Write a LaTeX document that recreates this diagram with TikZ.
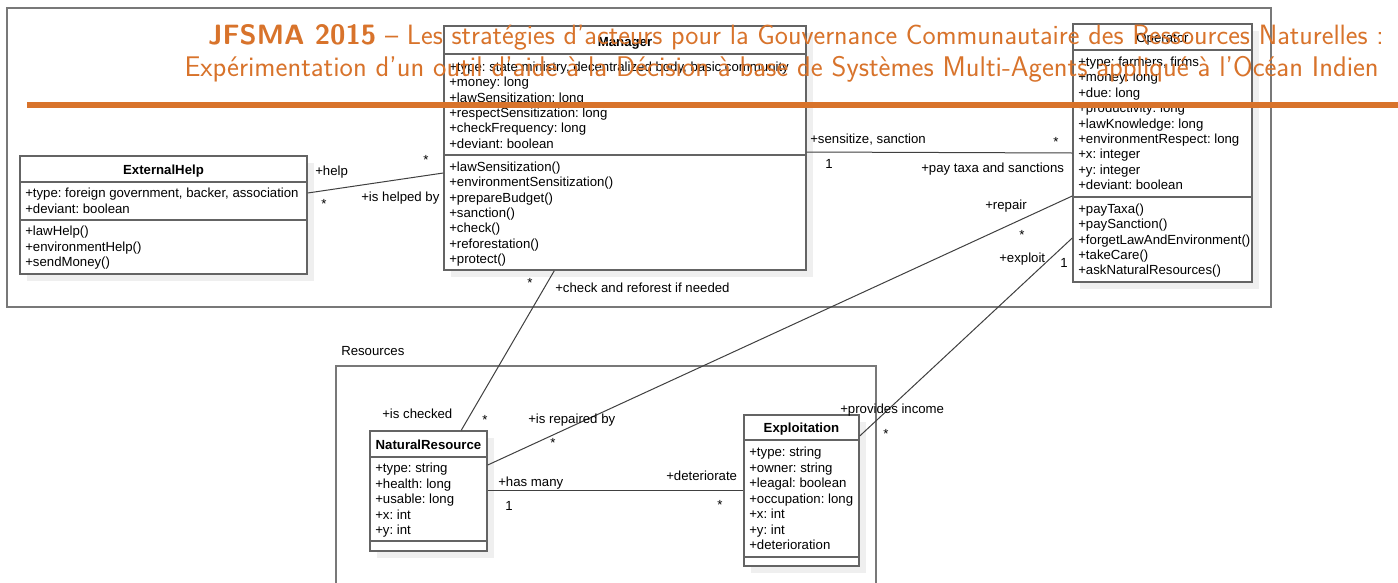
\documentclass[tikz,border=0pt]{standalone}
\usepackage{fontspec}
\newfontfamily\uml{Liberation Sans}
\usetikzlibrary{calc}
\definecolor{jorange}{RGB}{216,115,43}
\definecolor{boxgray}{RGB}{100,100,100}
\definecolor{pkggray}{RGB}{120,120,120}
\definecolor{shadowgray}{RGB}{239,239,239}
\frenchspacing
\begin{document}
\begin{tikzpicture}[x=0.75pt,y=-0.75pt,
  classbox/.style={draw=boxgray,line width=1.1pt,fill=white,rectangle,inner sep=0pt},
  pkg/.style={draw=pkggray,line width=1.1pt},
  sep/.style={draw=boxgray,line width=1.1pt},
  shadowbox/.style={fill=shadowgray},
  conn/.style={draw=black!75,line width=0.75pt},
  txt/.style={font=\uml\fontsize{9.9}{11}\selectfont,inner sep=0pt,anchor=base west},
  head/.style={font=\uml\bfseries\fontsize{9.9}{11}\selectfont,inner sep=0pt,anchor=base},
  headr/.style={font=\uml\fontsize{9.9}{11}\selectfont,inner sep=0pt,anchor=base},
  mult/.style={font=\uml\fontsize{9.9}{11}\selectfont,inner sep=0pt,anchor=base},
  ttl/.style={text=jorange,inner sep=0pt,anchor=base east}]
\useasboundingbox (0,0) rectangle (1398,582);
\clip (0,0) rectangle (1398,582);
\fill[white] (0,0) rectangle (1398,582);

% packages
\draw[pkg] (7,8) rectangle (1271,307);
\node[txt] (reslabel) at (341,355.5) {Resources};
\draw[pkg] (336,366) rectangle (876,600);

% ---------- ExternalHelp
\fill[shadowbox] (27,163) rectangle (314,281);
\node[classbox,minimum width={287*0.75pt},minimum height={118*0.75pt}] (ext) at (163.5,215) {};
\draw[sep] (ext.west |- 0,182) -- (ext.east |- 0,182);
\draw[sep] (ext.west |- 0,220) -- (ext.east |- 0,220);
\node[head] (extH) at (163.5,174.5) {ExternalHelp};
\foreach \t [count=\i from 0] in {{+type: foreign government, backer, association},{+deviant: boolean}}
  \node[txt] (extA\i) at (25,197.5+15.5*\i) {\t};
\foreach \t [count=\i from 0] in {+lawHelp(),+environmentHelp(),+sendMoney()}
  \node[txt] (extM\i) at (25,235.5+15.5*\i) {\t};

% ---------- Manager
\fill[shadowbox] (451,33) rectangle (813,277);
\node[classbox,minimum width={362*0.75pt},minimum height={244*0.75pt}] (mgr) at (625,148) {};
\draw[sep] (mgr.west |- 0,54) -- (mgr.east |- 0,54);
\draw[sep] (mgr.west |- 0,155) -- (mgr.east |- 0,155);
\node[head] (mgrH) at (625,46.5) {Manager};
\foreach \t [count=\i from 0] in {{+type: state ministry, decentralized body, basic community},+money: long,+lawSensitization: long,+respectSensitization: long,+checkFrequency: long,+deviant: boolean}
  \node[txt] (mgrA\i) at (449,71.5+15.3*\i) {\t};
\foreach \t [count=\i from 0] in {+lawSensitization(),+environmentSensitization(),+prepareBudget(),+sanction(),+check(),+reforestation(),+protect()}
  \node[txt] (mgrM\i) at (449,171.5+15.3*\i) {\t};

% ---------- Operator
\fill[shadowbox] (1080,31) rectangle (1259,289);
\node[classbox,minimum width={179*0.75pt},minimum height={258*0.75pt}] (op) at (1162.5,153) {};
\draw[sep] (op.west |- 0,50) -- (op.east |- 0,50);
\draw[sep] (op.west |- 0,197) -- (op.east |- 0,197);
\node[headr] (opH) at (1162.5,42.5) {Operator};
\foreach \t [count=\i from 0] in {{+type: farmers, firms},+money: long,+due: long,+productivity: long,+lawKnowledge: long,+environmentRespect: long,+x: integer,+y: integer,+deviant: boolean}
  \node[txt] (opA\i) at (1078,66.5+15.4*\i) {\t};
\foreach \t [count=\i from 0] in {+payTaxa(),+paySanction(),+forgetLawAndEnvironment(),+takeCare(),+askNaturalResources()}
  \node[txt] (opM\i) at (1078,213.5+15.3*\i) {\t};

% ---------- NaturalResource
\fill[shadowbox] (377,438) rectangle (494,558);
\node[classbox,minimum width={117*0.75pt},minimum height={120*0.75pt}] (nr) at (428.5,491) {};
\draw[sep] (nr.west |- 0,457) -- (nr.east |- 0,457);
\draw[sep] (nr.west |- 0,541) -- (nr.east |- 0,541);
\node[head] (nrH) at (428.5,449.5) {NaturalResource};
\foreach \t [count=\i from 0] in {+type: string,+health: long,+usable: long,+x: int,+y: int}
  \node[txt] (nrA\i) at (375,472.5+15.6*\i) {\t};

% ---------- Exploitation
\fill[shadowbox] (751,422) rectangle (866,573);
\node[classbox,minimum width={115*0.75pt},minimum height={151*0.75pt}] (ex) at (801.5,490.5) {};
\draw[sep] (ex.west |- 0,440) -- (ex.east |- 0,440);
\draw[sep] (ex.west |- 0,557) -- (ex.east |- 0,557);
\node[head] (exH) at (801.5,432.5) {Exploitation};
\foreach \t [count=\i from 0] in {+type: string,+owner: string,+leagal: boolean,+occupation: long,+x: int,+y: int,+deterioration}
  \node[txt] (exA\i) at (749,456.5+15.5*\i) {\t};

% ---------- connectors
\draw[conn] (ext.east |- 0,193) -- (mgr.west |- 0,173);
\draw[conn] (mgr.east |- 0,152) -- (op.west |- 0,153);
\draw[conn] ($(mgr.south west)+(111,0)$) -- ($(nr.north west)+(92,0)$);
\draw[conn] (op.west |- 0,196) -- (nr.east |- 0,465);
\draw[conn] (op.west |- 0,238) -- (ex.east |- 0,436);
\draw[conn] (nr.east |- 0,490) -- (ex.west |- 0,490);

% ---------- labels
\node[txt] (l1) at (315,175.5) {+help};
\node[mult] (m1) at (426,164) {*};
\node[mult] (m2) at (324,208) {*};
\node[txt] (l2) at (361,201.5) {+is helped by};
\node[txt] (l3) at (810,143.5) {+sensitize, sanction};
\node[txt] (m3) at (825,168.5) {1};
\node[mult] (m4) at (1056,146) {*};
\node[txt] (l4) at (921,172.5) {+pay taxa and sanctions};
\node[mult] (m5) at (530,287) {*};
\node[txt] (l5) at (555,292.5) {+check and reforest if needed};
\node[txt] (l6) at (382,418.5) {+is checked};
\node[mult] (m6) at (485,424) {*};
\node[txt] (l7) at (985,209.5) {+repair};
\node[mult] (m7) at (1022,239) {*};
\node[txt] (l8) at (528,423.5) {+is repaired by};
\node[mult] (m8) at (553,447) {*};
\node[txt] (l9) at (999,262.5) {+exploit};
\node[txt] (m9) at (1060,267.5) {1};
\node[txt] (l10) at (840,413.5) {+provides income};
\node[mult] (m10) at (886,438) {*};
\node[txt] (l11) at (498,486.5) {+has many};
\node[txt] (m11) at (505,510.5) {1};
\node[txt] (l12) at (666,480.5) {+deteriorate};
\node[mult] (m12) at (720,509) {*};

% ---------- title overlay
\node[ttl,font=\sffamily\fontsize{20.95}{25}\selectfont] (t1) at (1384,44.5) {\bfseries JFSMA 2015\mdseries{} – Les stratégies d’acteurs pour la Gouvernance Communautaire des Ressources Naturelles :};
\node[ttl,font=\sffamily\fontsize{21.3}{25}\selectfont] (t2) at (1379,76) {Expérimentation d’un outil d’aide à la Décision à base de Systèmes Multi-Agents appliqué à l’Océan Indien};
\fill[jorange] (27,101.7) rectangle (1398,107.7);
\end{tikzpicture}
\end{document}
